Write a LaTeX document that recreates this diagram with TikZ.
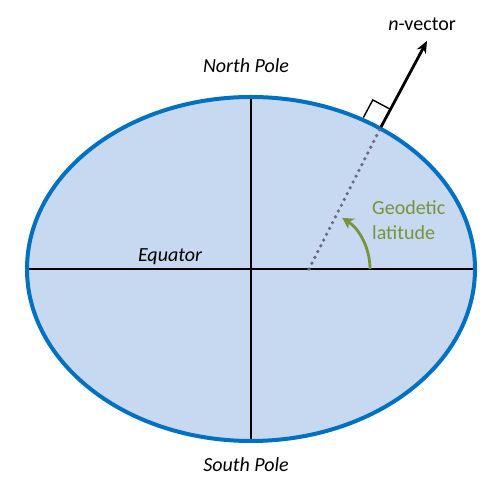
\documentclass[tikz,border=0pt]{standalone}
\usepackage{fontspec}
\setmainfont{Carlito}
\usetikzlibrary{calc,arrows.meta}
\definecolor{earthfill}{RGB}{198,217,241}
\definecolor{earthline}{RGB}{0,112,192}
\definecolor{latgreen}{RGB}{119,147,60}
\definecolor{dotgray}{RGB}{100,108,125}
\tikzset{
  lbl/.style={font=\fontsize{20}{25}\selectfont, inner sep=0pt},
  axis/.style={line width=1.6pt, black},
}
\begin{document}
\begin{tikzpicture}[x=1pt,y=1pt]
\useasboundingbox (0,0) rectangle (500,494);
% ellipse
\fill[earthfill] (251,225) ellipse [x radius=224, y radius=172];
% axes
\coordinate (W) at (27,225);
\coordinate (E) at (475,225);
\coordinate (N) at (251,397);
\coordinate (S) at (251,53);
\draw[axis] (W) -- (E);
\draw[axis] (N) -- (S);
\draw[earthline, line width=4pt] (251,225) ellipse [x radius=224, y radius=172];
% normal
\coordinate (F) at (309,225);
\coordinate (P) at (381,367);
\coordinate (T) at (427,453);
\draw[dotgray, line width=3.6pt, line cap=round, dash pattern=on 0pt off 6.5pt] (F) -- (P);
\draw[line width=2.8pt, -{Stealth[length=12pt,width=10pt]}] (P) -- (T);
% right angle box
\coordinate (C) at ($(P)!20pt!(T)$);
\coordinate (A) at ($(P)!20pt!90:(T)$);
\draw[line width=1.4pt] (A) -- ($(A)+(C)-(P)$) -- (C);
% latitude arc
\draw[latgreen, line width=2.8pt, -{Stealth[length=11pt,width=12pt,inset=3pt]}] ($(F)+(61,0)$) arc[start angle=0, end angle=57, radius=61];
% labels
\node[lbl, font=\fontsize{20}{25}\selectfont\itshape] (np) at (246,428) {North Pole};
\node[lbl, font=\fontsize{20}{25}\selectfont\itshape] (sp) at (246,29) {South Pole};
\node[lbl, font=\fontsize{20}{25}\selectfont\itshape] (eq) at (170,237) {Equator};
\node[lbl] (nv) at (422,470) {\textit{n}-vector};
\node[lbl, text=latgreen, align=left, anchor=west] (gl) at (372,274) {Geodetic\\latitude};
\end{tikzpicture}
\end{document}
